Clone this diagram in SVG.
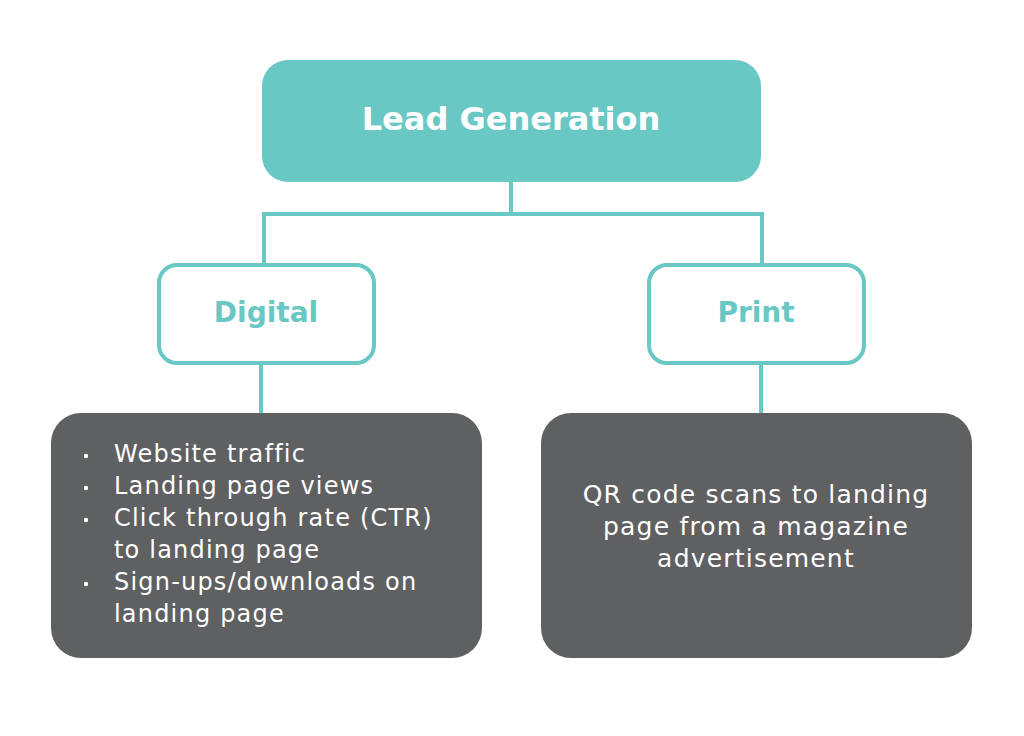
<svg xmlns="http://www.w3.org/2000/svg" width="1024" height="736" viewBox="0 0 1024 736">
<style>
.teal{fill:#69c8c4}
.cat{fill:#fff;stroke:#69c8c4;stroke-width:4}
.dark{fill:#5f6062}
.conn{fill:none;stroke:#69c8c4;stroke-width:4}
.title{font-family:"DejaVu Sans",sans-serif;font-weight:bold;font-size:32px;fill:#fff;text-anchor:middle}
.cattxt{font-family:"DejaVu Sans",sans-serif;font-weight:bold;font-size:28px;fill:#69c8c4;text-anchor:middle}
.body{font-family:"DejaVu Sans",sans-serif;font-size:24px;letter-spacing:1.2px;fill:#fff}
.body2{font-family:"DejaVu Sans",sans-serif;font-size:25px;letter-spacing:1.2px;fill:#fff;text-anchor:middle}
</style>
<rect width="1024" height="736" fill="#fff"/>
<g id="connectors">
<path class="conn" d="M511 182V214M264 264V214H762V264"/>
<path class="conn" d="M261 364V414"/>
<path class="conn" d="M761 364V414"/>
</g>
<g id="lead">
<rect class="teal" x="262" y="60" width="499" height="122" rx="26"/>
<text class="title" x="511" y="130">Lead Generation</text>
</g>
<g id="digital">
<rect class="cat" x="159" y="265" width="215" height="98" rx="18"/>
<text class="cattxt" x="266" y="322">Digital</text>
</g>
<g id="print">
<rect class="cat" x="649" y="265" width="215" height="98" rx="18"/>
<text class="cattxt" x="756" y="322">Print</text>
</g>
<g id="digital-detail">
<rect class="dark" x="51" y="413" width="431" height="245" rx="30"/>
<circle cx="86" cy="456" r="2.2" fill="#fff"/>
<circle cx="86" cy="488" r="2.2" fill="#fff"/>
<circle cx="86" cy="520" r="2.2" fill="#fff"/>
<circle cx="86" cy="584" r="2.2" fill="#fff"/>
<g class="body">
<text x="114" y="462">Website traffic</text>
<text x="114" y="494">Landing page views</text>
<text x="114" y="526">Click through rate (CTR)</text>
<text x="114" y="558">to landing page</text>
<text x="114" y="590">Sign-ups/downloads on</text>
<text x="114" y="622">landing page</text>
</g>
</g>
<g id="print-detail">
<rect class="dark" x="541" y="413" width="431" height="245" rx="30"/>
<g class="body2">
<text x="756" y="503">QR code scans to landing</text>
<text x="756" y="535">page from a magazine</text>
<text x="756" y="567">advertisement</text>
</g>
</g>
</svg>
